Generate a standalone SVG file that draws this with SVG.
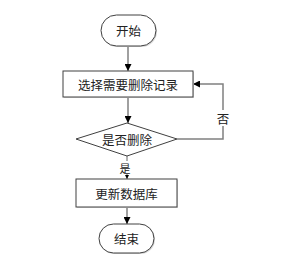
<svg xmlns="http://www.w3.org/2000/svg" width="285" height="263" viewBox="0 0 285 263">
<style>
.n{fill:#fff;stroke:#404040;stroke-width:1}
.sh{fill:#d8d8d8}
.t{font-family:"Noto Sans CJK SC","Noto Sans",sans-serif;font-size:12.5px;fill:#222;text-anchor:middle;dominant-baseline:central}
.s{font-size:11px}
.c{fill:none;stroke:#808080;stroke-width:1.5}
.thin{fill:none;stroke:#404040;stroke-width:0.8}
</style>
<defs>
<marker id="a" viewBox="0 0 10 10" refX="10" refY="5" markerWidth="7" markerHeight="7" markerUnits="userSpaceOnUse" orient="auto"><path d="M0,0L10,5L0,10z" fill="#000"/></marker>
<marker id="b" viewBox="0 0 10 10" refX="10" refY="5" markerWidth="4" markerHeight="4" markerUnits="userSpaceOnUse" orient="auto"><path d="M0,0L10,5L0,10z" fill="#000"/></marker>
</defs>
<rect width="285" height="263" fill="#fff"/>
<g id="connectors">
<path class="c" d="M128,46V71" marker-end="url(#a)"/>
<path class="c" d="M128,97V123" marker-end="url(#a)"/>
<path class="c" d="M177,139H223V84H193" marker-end="url(#a)"/>
<path class="thin" d="M127,156V179" marker-end="url(#b)"/>
<path class="c" d="M127,207V224" marker-end="url(#a)"/>
<rect x="216" y="110" width="14" height="16" fill="#fff"/>
<text class="t" x="223" y="118">否</text>
<rect x="119" y="161" width="12" height="13" fill="#fff"/>
<text class="t s" x="125" y="167.5">是</text>
</g>
<g id="start">
<rect class="sh" x="102" y="16" width="55" height="31" rx="15.5"/>
<rect class="n" x="101" y="15" width="55" height="31" rx="15.5"/>
<text class="t" x="128.5" y="30.5">开始</text>
</g>
<g id="select">
<rect class="sh" x="64" y="72" width="130" height="26"/>
<rect class="n" x="63" y="71" width="130" height="26"/>
<text class="t" x="128" y="84">选择需要删除记录</text>
</g>
<g id="decide">
<path class="n" d="M127,123L177,139L127,156L76,139Z"/>
<text class="t" x="127" y="139">是否删除</text>
</g>
<g id="update">
<rect class="sh" x="77" y="180" width="101" height="28"/>
<rect class="n" x="76" y="179" width="101" height="28"/>
<text class="t" x="126.5" y="193">更新数据库</text>
</g>
<g id="end">
<rect class="sh" x="100" y="225" width="55" height="29" rx="14.5"/>
<rect class="n" x="99" y="224" width="55" height="29" rx="14.5"/>
<text class="t" x="126.5" y="238.5">结束</text>
</g>
</svg>
